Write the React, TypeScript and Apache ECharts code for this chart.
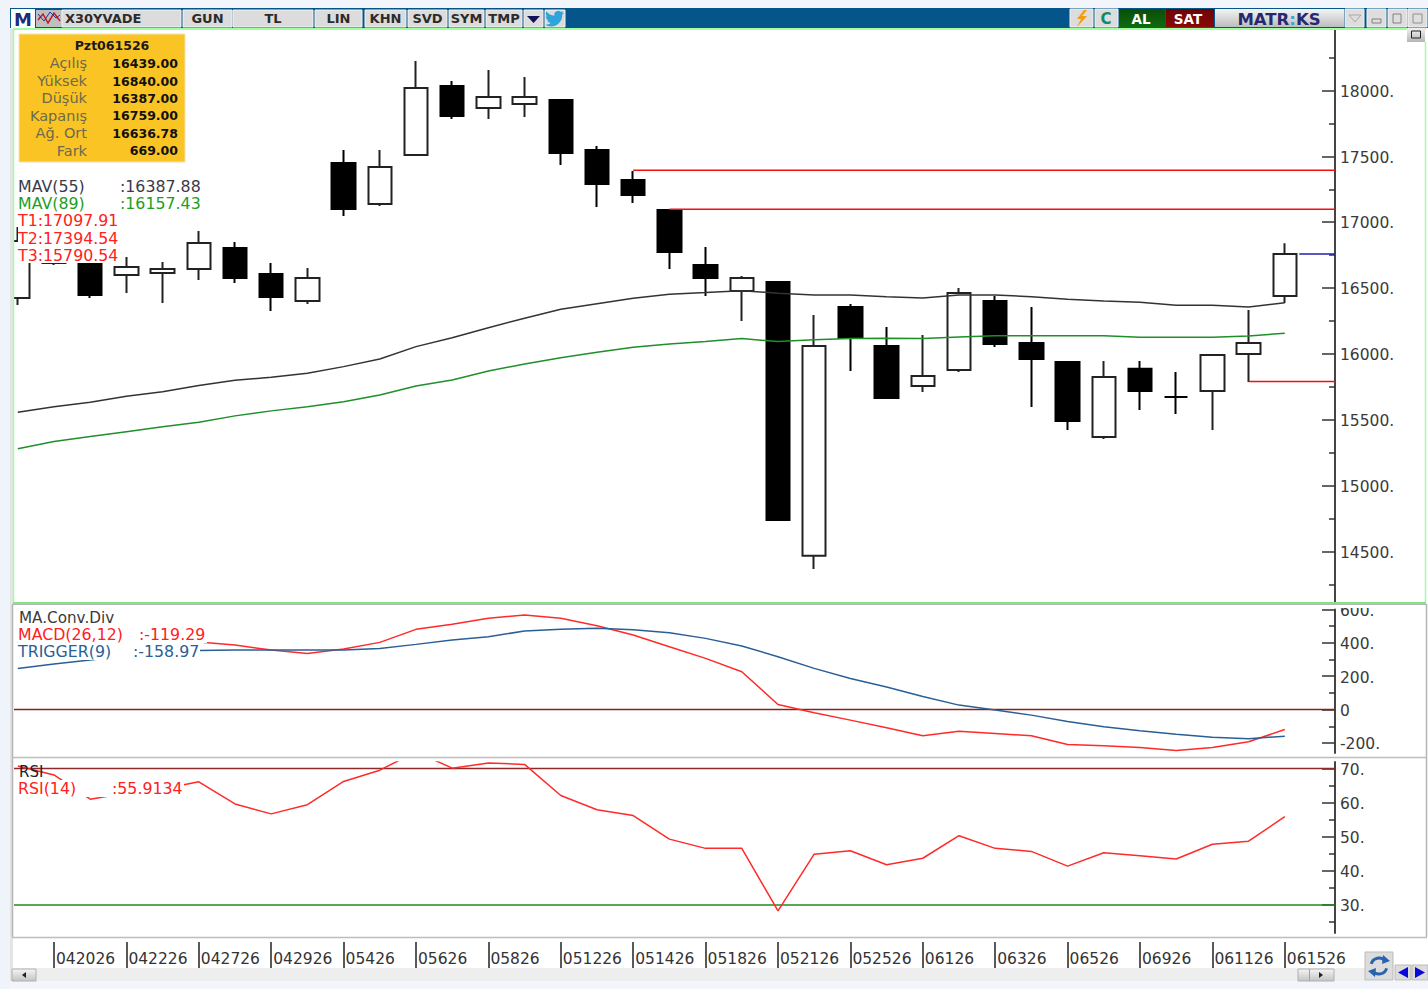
import React, { useEffect, useRef } from "react";
import * as echarts from "echarts";

// ---------- data ----------
const candleOpen = [16425,16690,16690,16599,16614,16645,16804,16607,16402,17450,17138,17510,18034,17867,17897,17928,17548,17320,17093,16675,16478,16546,14466,16356,16060,15756,15878,16402,16083,15939,15369,15886,15673,15718,15999,16439];
const candleClose = [16857,16760,16447,16660,16645,16842,16576,16432,16576,17100,17419,18019,17806,17951,17951,17525,17290,17207,16774,16576,16576,14739,16060,16121,15665,15832,16463,16075,15961,15491,15825,15718,15673,15992,16083,16759];
const candleLow = [16371,16675,16425,16463,16387,16561,16538,16326,16379,17047,17123,17510,17784,17784,17799,17434,17115,17146,16645,16440,16250,14739,14367,15870,15665,15711,15863,16053,15597,15422,15354,15574,15544,15422,15787,16387];
const candleHigh = [16964,16790,16700,16736,16698,16933,16850,16690,16652,17548,17548,18224,18072,18156,18102,17935,17579,17389,17100,16812,16591,16554,16296,16379,16204,16144,16500,16440,16356,15939,15946,15946,15863,15992,16333,16840];
const mav55 = [15557,15599,15633,15678,15713,15759,15800,15822,15853,15903,15961,16055,16123,16199,16270,16339,16381,16422,16453,16466,16480,16460,16447,16447,16434,16425,16447,16447,16434,16415,16402,16392,16369,16369,16356,16388];
const mav89 = [15280,15334,15372,15409,15447,15481,15529,15567,15599,15637,15688,15756,15802,15870,15923,15971,16012,16050,16075,16093,16116,16093,16108,16116,16119,16116,16128,16138,16138,16138,16138,16126,16126,16126,16136,16157];
const macd = [401,410,420,420,410,405,387,357,337,363,403,481,511,547,567,547,503,447,377,307,227,31,-19,-63,-109,-157,-129,-143,-157,-209,-217,-227,-245,-227,-193,-119];
const trigger = [246,273,297,321,339,354,357,357,357,357,366,391,417,437,471,481,487,479,461,427,381,317,247,187,135,79,27,-3,-33,-71,-103,-127,-147,-165,-175,-159];
const rsi = [70.7,68.1,61,62.8,64,66.1,59.6,56.7,59.4,66.2,69.5,74.9,70.1,71.6,71.2,62.1,57.9,56.2,49.3,46.6,46.6,28.3,44.9,45.9,41.8,43.7,50.3,46.6,45.7,41.4,45.3,44.4,43.5,47.8,48.7,55.9];
const dateTickLabels = ["042026","042226","042726","042926","05426","05626","05826","051226","051426","051826","052126","052526","06126","06326","06526","06926","061126","061526"];
const dateTickCandles = [1,3,5,7,9,11,13,15,17,19,21,23,25,27,29,31,33,35];
const priceTicks = [14500,15000,15500,16000,16500,17000,17500,18000];
const priceMinorTicks = [14250,14750,15250,15750,16250,16750,17250,17750,18250];
const macdTicks = [-200,0,200,400,600];
const macdMinorTicks = [-100,100,300,500];
const rsiTicks = [30,40,50,60,70];
const rsiMinorTicks = [25,35,45,55,65];
const t1 = 17097.91, t2 = 17394.54, t3 = 15790.54, lastClose = 16759;
const infoLabels = ["Açılış","Yüksek","Düşük","Kapanış","Ağ. Ort","Fark"];
const infoValues = ["16439.00","16840.00","16387.00","16759.00","16636.78","669.00"];
const toolbarButtons: [string, number, number][] = [["X30YVADE",62,119],["GUN",183,49],["TL",233,80],["LIN",315,47],["KHN",365,41],["SVD",408,39],["SYM",449,35],["TMP",486,36]];

// ---------- layout ----------
const XMIN = -0.105, XMAX = 36.387;
const F = '"DejaVu Sans"';
const Z = 100;

const twitterPath = "M23.953 4.57a10 10 0 0 1-2.825.775 4.958 4.958 0 0 0 2.163-2.723c-.951.555-2.005.959-3.127 1.184a4.92 4.92 0 0 0-8.384 4.482C7.69 8.095 4.067 6.13 1.64 3.162a4.822 4.822 0 0 0-.666 2.475c0 1.71.87 3.213 2.188 4.096a4.904 4.904 0 0 1-2.228-.616v.06a4.923 4.923 0 0 0 3.946 4.827 4.996 4.996 0 0 1-2.212.085 4.936 4.936 0 0 0 4.604 3.417 9.867 9.867 0 0 1-6.102 2.105c-.39 0-.779-.023-1.17-.067a13.995 13.995 0 0 0 7.557 2.209c9.053 0 13.998-7.496 13.998-13.985 0-.21 0-.42-.015-.63A9.935 9.935 0 0 0 24 4.59z";

function rect(x: number, y: number, w: number, h: number, fill: any, stroke?: string, z = Z): any {
  return { type: "rect", z, shape: { x, y, width: w, height: h }, style: { fill, stroke: stroke ?? "none", lineWidth: stroke ? 1 : 0 } };
}
function txt(text: string, x: number, y: number, fill: string, font: string, align = "left", z = Z + 2): any {
  return { type: "text", z, x, y, style: { text, fill, font, align, textAlign: align, verticalAlign: "middle", textVerticalAlign: "middle" } };
}
function tri(points: number[][], fill: string): any {
  return { type: "polygon", z: Z + 2, shape: { points }, style: { fill } };
}
function hline(x1: number, y1: number, x2: number, y2: number, stroke: string, lineWidth = 1): any {
  return { type: "line", z: Z, shape: { x1, y1, x2, y2 }, style: { stroke, lineWidth } };
}
const grayGrad = (a: string, b: string) => new echarts.graphic.LinearGradient(0, 0, 0, 1, [{ offset: 0, color: a }, { offset: 1, color: b }]);

function chrome(): any[] {
  const e: any[] = [];
  // outer page colour
  e.push(rect(0, 0, 1428, 8, "#f2f6fc"));
  e.push(rect(0, 0, 10, 989, "#eff3fa"));
  e.push(rect(10, 29, 3, 960, "#e4e4e4"));
  e.push(rect(10, 981, 1418, 8, "#f2f6fc"));
  e.push(rect(12, 968, 1354, 13, "#eeeeee"));
  // toolbar
  e.push(rect(10, 8, 1418, 20, "#03558a"));
  e.push(rect(11, 9, 24, 19, "#ffffff"));
  e.push(txt("M", 23, 19, "#1f2a78", `bold 18px ${F}`, "center"));
  e.push(rect(36, 10, 26, 17, "#bfbfbf"));
  e.push({ type: "polyline", z: Z + 2, shape: { points: [[38, 20], [43, 14], [48, 23], [54, 13], [60, 21]] }, style: { stroke: "#d01515", fill: "none", lineWidth: 1.5 } });
  e.push({ type: "polyline", z: Z + 2, shape: { points: [[38, 14], [44, 21], [50, 12], [56, 18], [60, 15]] }, style: { stroke: "#2038a0", fill: "none", lineWidth: 1 } });
  for (const [label, x, w] of toolbarButtons) {
    e.push(rect(x, 10, w, 17, "#dcdcdc", "#f3f3f3"));
    if (label === "X30YVADE") e.push(txt(label, 65, 18.5, "#2b2b2b", `bold 13px ${F}`));
    else e.push(txt(label, x + w / 2, 18.5, "#2b2b2b", `bold 13px ${F}`, "center"));
  }
  e.push(rect(524, 10, 19, 17, "#dcdcdc", "#f3f3f3"));
  e.push(tri([[527, 16], [540, 16], [533.5, 23]], "#10105a"));
  e.push(rect(545, 10, 20, 17, "#dcdcdc", "#f3f3f3"));
  echarts.graphic.registerShape("tw", echarts.graphic.extendPath(twitterPath, {}));
  e.push({ type: "tw", z: Z + 2, x: 545, y: 9, scaleX: 0.8, scaleY: 0.8, style: { fill: "#2fa4dc" } });
  // right toolbar
  e.push(rect(1070, 9, 23, 18, "#dcdcdc", "#f3f3f3"));
  e.push(tri([[1084, 10], [1077, 19], [1081, 19], [1077, 27], [1087, 16], [1082, 16], [1087, 10]], "#f29a12"));
  e.push(rect(1095, 9, 23, 18, "#dcdcdc", "#f3f3f3"));
  e.push(txt("C", 1106, 18.5, "#0f8a6a", `bold 15px ${F}`, "center"));
  e.push(rect(1119, 9, 46, 18, grayGrad("#0a4d0a", "#0f6a0f")));
  e.push(txt("AL", 1141, 19, "#ffffff", `bold 13.5px ${F}`, "center"));
  e.push(rect(1166, 9, 48, 18, grayGrad("#6d0505", "#8a0707")));
  e.push(txt("SAT", 1188, 19, "#ffffff", `bold 13.5px ${F}`, "center"));
  e.push(rect(1215, 9, 129, 18, grayGrad("#f4f4f4", "#bdbdbd")));
  e.push({ type: "text", z: Z + 2, x: 1279, y: 19, style: { text: "{a|MATR}{b|:}{a|KS}", align: "center", textAlign: "center", verticalAlign: "middle", textVerticalAlign: "middle", rich: { a: { fill: "#27296f", font: `bold 16.5px ${F}` }, b: { fill: "#35a7d6", font: `bold 16.5px ${F}` } } } });
  const ctl = [1345, 1367, 1388, 1408];
  ctl.forEach((x) => e.push(rect(x, 9, 19, 18, "#dedede", "#f3f3f3")));
  e.push({ type: "polygon", z: Z + 2, shape: { points: [[1349, 15], [1361, 15], [1355, 22]] }, style: { fill: "none", stroke: "#a8a8a8", lineWidth: 1 } });
  e.push(rect(1372, 19, 9, 4, "none", "#808080", Z + 2));
  e.push(rect(1393, 14, 8, 9, "none", "#808080", Z + 2));
  e.push(rect(1413, 14, 9, 9, "none", "#909090", Z + 2));
  // borders of the panes
  e.push(hline(13, 29, 1426, 29, "#a0ffa0", 2));
  e.push(hline(13.5, 29, 13.5, 603, "#a0ffa0", 1.5));
  e.push(hline(1425.5, 42, 1425.5, 603, "#a0ffa0", 1.5));
  e.push(hline(13, 603, 1426, 603, "#7fe67f", 2));
  e.push(rect(1338, 604.5, 84, 3.5, "#ffffff"));
  e.push(hline(12, 604.5, 1427, 604.5, "#b8b8b8", 1));
  e.push(hline(12.5, 604, 12.5, 937, "#b5b5b5", 1.5));
  e.push(hline(1426.5, 604, 1426.5, 937, "#b5b5b5", 1.5));
  e.push(hline(12, 757.5, 1427, 757.5, "#bdbdbd", 1.5));
  e.push(hline(12, 937.5, 1427, 937.5, "#bdbdbd", 1.5));
  // small pane button
  e.push(rect(1407, 28, 18, 14, grayGrad("#f2f2f2", "#b5b5b5")));
  e.push(rect(1411.5, 31, 9, 7, "none", "#222222", Z + 2));
  // scroll bar
  e.push(rect(12, 969, 24, 12, grayGrad("#f5f5f5", "#c4c4c4"), "#b0b0b0"));
  e.push(tri([[26, 972], [26, 978], [22, 975]], "#222222"));
  e.push(rect(1298, 969, 36, 12, grayGrad("#f5f5f5", "#c4c4c4"), "#b0b0b0"));
  e.push(hline(1309.5, 969, 1309.5, 981, "#a0a0a0"));
  e.push(tri([[1319, 972], [1319, 978], [1323, 975]], "#222222"));
  // refresh and arrow buttons
  e.push(rect(1365, 952, 28, 28, "#dcdcdc", "#bbbbbb"));
  e.push({ type: "arc", z: Z + 2, shape: { cx: 1379, cy: 966, r: 8, startAngle: 3.4, endAngle: 5.6 }, style: { stroke: "#2a62ad", fill: "none", lineWidth: 3 } });
  e.push({ type: "arc", z: Z + 2, shape: { cx: 1379, cy: 966, r: 8, startAngle: 0.3, endAngle: 2.5 }, style: { stroke: "#2a62ad", fill: "none", lineWidth: 3 } });
  e.push(tri([[1383, 955], [1390, 961], [1382, 964]], "#2a62ad"));
  e.push(tri([[1375, 977], [1368, 971], [1376, 968]], "#2a62ad"));
  e.push(rect(1395, 965, 16, 15, "#dcdcdc", "#bbbbbb"));
  e.push(rect(1412, 965, 16, 15, "#dcdcdc", "#bbbbbb"));
  e.push(tri([[1408, 967], [1408, 978], [1398, 972.5]], "#0a0ad8"));
  e.push(tri([[1415, 967], [1415, 978], [1425, 972.5]], "#0a0ad8"));

  // info box
  e.push(rect(19, 34, 166, 128, "#fac424", "#f3e2b0"));
  e.push(txt("Pzt061526", 112, 45.5, "#1a1a1a", `bold 12.5px ${F}`, "center"));
  const rows = [63, 81, 98, 115.5, 133, 150.5];
  infoLabels.forEach((l, i) => {
    e.push(txt(l, 87, rows[i], "#6e6a4a", `14.5px ${F}`, "right"));
    e.push(txt(infoValues[i], 178, rows[i], "#111111", `bold 12.5px ${F}`, "right"));
  });
  // indicator captions: their white boxes hide what runs underneath
  const label = `15.8px ${F}`;
  e.push(rect(15, 176, 188, 18, "#ffffff"));
  e.push(rect(15, 194, 188, 18, "#ffffff"));
  e.push(rect(18, 212, 101, 51, "#ffffff"));
  e.push(txt("MAV(55)", 18, 186, "#3a3a4a", label));
  e.push(txt(":16387.88", 120, 186, "#3a3a4a", label));
  e.push(txt("MAV(89)", 18, 203, "#1e9e1e", label));
  e.push(txt(":16157.43", 120, 203, "#1e9e1e", label));
  e.push(txt("T1:17097.91", 18, 220.5, "#ff2020", label));
  e.push(txt("T2:17394.54", 18, 238, "#ff2020", label));
  e.push(txt("T3:15790.54", 18, 255, "#ff2020", label));

  e.push(rect(18, 627, 189, 16, "#ffffff"));
  e.push(rect(14, 643, 186, 17, "#ffffff"));
  e.push(txt("MA.Conv.Div", 19, 618, "#3a3a3a", `15.2px ${F}`));
  e.push(txt("MACD(26,12)", 18, 634.5, "#ff2020", label));
  e.push(txt(":-119.29", 139, 634.5, "#ff2020", label));
  e.push(txt("TRIGGER(9)", 18, 651.5, "#2a5f96", label));
  e.push(txt(":-158.97", 133, 651.5, "#2a5f96", label));

  e.push(rect(14, 780, 170, 17, "#ffffff"));
  e.push(txt("RSI", 19, 772, "#222222", `15px ${F}`));
  e.push(txt("RSI(14)", 18, 788, "#ff2020", label));
  e.push(txt(":55.9134", 112, 788, "#ff2020", label));
  return e;
}

function priceAxes(gridIndex: number, minorGrid: number, labelGrid: number, min: number, max: number, major: number[], minor: number[], fmt: (v: number) => string) {
  const common = { type: "value", min, max, position: "right", splitLine: { show: false } };
  return [
    {
      ...common,
      gridIndex,
      axisLine: { show: true, onZero: false, lineStyle: { color: "#444444", width: 2 } },
      axisTick: { show: true, inside: true, length: 13, customValues: major, lineStyle: { color: "#333333", width: 1.5 } },
      axisLabel: { show: false },
    },
    {
      ...common,
      gridIndex: minorGrid,
      axisLine: { show: false, onZero: false },
      axisTick: { show: true, inside: true, length: 6, customValues: minor, lineStyle: { color: "#333333", width: 1.5 } },
      axisLabel: { show: false },
    },
    {
      ...common,
      gridIndex: labelGrid,
      axisLine: { show: false, onZero: false },
      axisTick: { show: false },
      axisLabel: { show: true, customValues: major, formatter: fmt, margin: 5, color: "#3a3a3a", fontFamily: "DejaVu Sans", fontSize: 15.5, hideOverlap: false, showMinLabel: true, showMaxLabel: true },
    },
  ];
}

function lineSeries(xAxisIndex: number, yAxisIndex: number, data: number[][], color: string, width = 1.5) {
  return { type: "line", xAxisIndex, yAxisIndex, data, symbol: "none", silent: true, clip: true, lineStyle: { color, width } };
}

const withIndex = (values: number[]) => values.map((v, i) => [i, v]);
const level = (from: number, v: number) => [[from, v], [XMAX, v]];

export default function App() {
  const ref = useRef<HTMLDivElement>(null);
  useEffect(() => {
    const chart = echarts.init(ref.current!, undefined, { renderer: "svg" });
    const hiddenX = (gridIndex: number) => ({
      type: "value", gridIndex, min: XMIN, max: XMAX, show: false, splitLine: { show: false },
      axisLine: { onZero: false },
    });
    const num = (v: number) => `${v}.`;
    const macdFmt = (v: number) => (v === 0 ? "0" : `${v}.`);
    const priceGrid = { left: 14, width: 1321, top: 30, height: 573 };
    const macdGrid = { left: 14, width: 1321, top: 609.5, height: 143.5 };
    const rsiGrid = { left: 14, width: 1321, top: 762, height: 171 };
    const LABEL_SHIFT = 1.3;
    const shifted = (g: any) => ({ ...g, top: g.top + LABEL_SHIFT });
    chart.setOption({
      animation: false,
      backgroundColor: "#ffffff",
      grid: [
        priceGrid,
        macdGrid,
        rsiGrid,
        { left: 14, width: 1321, top: 942, height: 26 },
        priceGrid,
        macdGrid,
        rsiGrid,
        shifted(priceGrid),
        shifted(macdGrid),
        shifted(rsiGrid),
      ],
      xAxis: [
        hiddenX(0),
        hiddenX(1),
        hiddenX(2),
        {
          type: "value", gridIndex: 3, min: XMIN, max: XMAX, position: "top", splitLine: { show: false },
          axisLine: { show: false, onZero: false },
          axisTick: { show: true, inside: true, length: 26, customValues: dateTickCandles, lineStyle: { color: "#222222", width: 1.5 } },
          axisLabel: {
            show: true, inside: true, customValues: dateTickCandles, margin: 9, align: "left", padding: [0, 0, 0, 2],
            hideOverlap: false, color: "#333333", fontFamily: "DejaVu Sans", fontSize: 15.5,
            formatter: (v: number) => dateTickLabels[dateTickCandles.indexOf(v)] ?? "",
          },
        },
        hiddenX(4),
        hiddenX(5),
        hiddenX(6),
        hiddenX(7),
        hiddenX(8),
        hiddenX(9),
      ],
      yAxis: [
        ...priceAxes(0, 4, 7, 14108, 18459.4, priceTicks, priceMinorTicks, num),
        ...priceAxes(1, 5, 8, -260, 600, macdTicks, macdMinorTicks, macdFmt),
        ...priceAxes(2, 6, 9, 21.8, 71.9, rsiTicks, rsiMinorTicks, num),
        { type: "value", gridIndex: 3, show: false, min: 0, max: 1, axisLine: { onZero: false } },
      ],
      series: [
        {
          type: "candlestick", xAxisIndex: 0, yAxisIndex: 0, barWidth: 24, clip: true, silent: true,
          data: candleOpen.map((o, i) => [i, o, candleClose[i], candleLow[i], candleHigh[i]]),
          itemStyle: { color: "#ffffff", color0: "#000000", borderColor: "#222222", borderColor0: "#000000", borderColorDoji: "#000000", borderWidth: 2 },
        },
        lineSeries(0, 0, withIndex(mav55), "#333333"),
        lineSeries(0, 0, withIndex(mav89), "#1f8f2a"),
        lineSeries(0, 0, level(17, t2), "#f01010"),
        lineSeries(0, 0, level(18, t1), "#f01010"),
        lineSeries(0, 0, level(34, t3), "#f01010"),
        lineSeries(0, 0, level(35.4, lastClose), "#2222aa"),
        lineSeries(1, 3, level(XMIN, 0), "#8b1f1f"),
        lineSeries(1, 3, withIndex(macd), "#ff2a2a"),
        lineSeries(1, 3, withIndex(trigger), "#2a5f96"),
        lineSeries(2, 6, level(XMIN, 70), "#8b2a2a", 1.6),
        lineSeries(2, 6, level(XMIN, 30), "#1f8a1f", 1.6),
        lineSeries(2, 6, withIndex(rsi), "#ff2a2a"),
      ],
      graphic: { elements: chrome() },
    });
    return () => chart.dispose();
  }, []);
  return <div ref={ref} style={{ position: "absolute", left: 0, top: 0, width: 1428, height: 989 }} />;
}
